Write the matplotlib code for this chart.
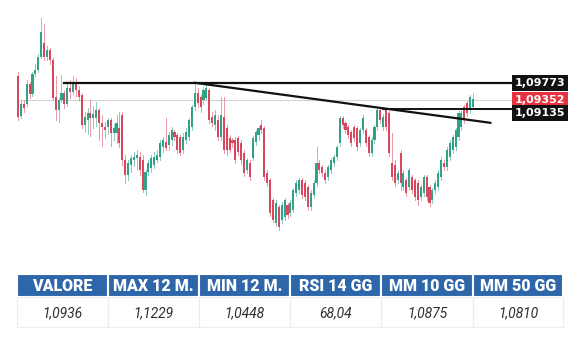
import matplotlib.pyplot as plt
from matplotlib.patches import Rectangle

# candele giornaliere (EUR/USD)
opens = [1.0995, 1.0895, 1.0925, 1.0925, 1.0975, 1.0950, 1.1000, 1.1010, 1.1043, 1.1078,
         1.1043, 1.1060, 1.1035, 1.0943, 1.0910, 1.0935, 1.0953, 1.0925, 1.0965, 1.0955,
         1.0980, 1.0960, 1.0948, 1.0873, 1.0885, 1.0903, 1.0890, 1.0890, 1.0910, 1.0878,
         1.0868, 1.0868, 1.0885, 1.0853, 1.0853, 1.0865, 1.0898, 1.0785, 1.0748, 1.0773,
         1.0785, 1.0790, 1.0793, 1.0785, 1.0710, 1.0755, 1.0765, 1.0773, 1.0785, 1.0793,
         1.0818, 1.0830, 1.0823, 1.0835, 1.0855, 1.0848, 1.0843, 1.0810, 1.0835, 1.0843,
         1.0868, 1.0918, 1.0953, 1.0943, 1.0935, 1.0940, 1.0960, 1.0893, 1.0873, 1.0885,
         1.0843, 1.0893, 1.0865, 1.0840, 1.0835, 1.0835, 1.0840, 1.0828, 1.0803, 1.0760,
         1.0778, 1.0790, 1.0830, 1.0848, 1.0873, 1.0865, 1.0753, 1.0735, 1.0685, 1.0628,
         1.0668, 1.0635, 1.0643, 1.0673, 1.0653, 1.0660, 1.0703, 1.0710, 1.0735, 1.0728,
         1.0718, 1.0668, 1.0698, 1.0728, 1.0778, 1.0768, 1.0753, 1.0743, 1.0760, 1.0778,
         1.0793, 1.0828, 1.0890, 1.0878, 1.0868, 1.0855, 1.0868, 1.0865, 1.0828, 1.0860,
         1.0860, 1.0843, 1.0803, 1.0835, 1.0868, 1.0910, 1.0868, 1.0910, 1.0903, 1.0778,
         1.0773, 1.0735, 1.0803, 1.0718, 1.0735, 1.0718, 1.0743, 1.0735, 1.0728, 1.0693,
         1.0703, 1.0743, 1.0718, 1.0685, 1.0710, 1.0718, 1.0743, 1.0778, 1.0768, 1.0793,
         1.0810, 1.0818, 1.0843, 1.0868, 1.0918, 1.0928, 1.0910, 1.0918]
closes = [1.0893, 1.0925, 1.0915, 1.0975, 1.0950, 1.1000, 1.1010, 1.1043, 1.1105, 1.1043,
          1.1060, 1.1035, 1.0940, 1.0910, 1.0935, 1.0953, 1.0925, 1.0965, 1.0955, 1.0980,
          1.0960, 1.0943, 1.0873, 1.0893, 1.0903, 1.0890, 1.0900, 1.0910, 1.0878, 1.0868,
          1.0860, 1.0885, 1.0853, 1.0865, 1.0878, 1.0828, 1.0785, 1.0748, 1.0778, 1.0790,
          1.0793, 1.0798, 1.0760, 1.0710, 1.0755, 1.0778, 1.0790, 1.0793, 1.0798, 1.0828,
          1.0835, 1.0815, 1.0848, 1.0860, 1.0843, 1.0810, 1.0803, 1.0843, 1.0855, 1.0885,
          1.0918, 1.0953, 1.0928, 1.0918, 1.0960, 1.0965, 1.0885, 1.0878, 1.0898, 1.0843,
          1.0898, 1.0810, 1.0810, 1.0810, 1.0828, 1.0785, 1.0805, 1.0785, 1.0753, 1.0785,
          1.0743, 1.0840, 1.0855, 1.0865, 1.0860, 1.0743, 1.0728, 1.0653, 1.0635, 1.0678,
          1.0618, 1.0673, 1.0685, 1.0648, 1.0678, 1.0710, 1.0728, 1.0735, 1.0698, 1.0693,
          1.0668, 1.0703, 1.0728, 1.0778, 1.0760, 1.0753, 1.0735, 1.0768, 1.0785, 1.0793,
          1.0818, 1.0890, 1.0873, 1.0860, 1.0848, 1.0828, 1.0840, 1.0818, 1.0860, 1.0890,
          1.0828, 1.0803, 1.0835, 1.0868, 1.0910, 1.0885, 1.0893, 1.0868, 1.0803, 1.0743,
          1.0728, 1.0753, 1.0728, 1.0753, 1.0703, 1.0760, 1.0710, 1.0693, 1.0685, 1.0718,
          1.0743, 1.0693, 1.0678, 1.0710, 1.0728, 1.0753, 1.0785, 1.0768, 1.0810, 1.0828,
          1.0843, 1.0860, 1.0903, 1.0903, 1.0885, 1.0903, 1.0943, 1.0938]
highs = [1.1005, 1.0935, 1.0935, 1.0985, 1.0980, 1.1005, 1.1025, 1.1050, 1.1140, 1.1125,
         1.1070, 1.1065, 1.1040, 1.0995, 1.0940, 1.0998, 1.0960, 1.0975, 1.0985, 1.0995,
         1.0990, 1.0970, 1.0953, 1.0905, 1.0915, 1.0935, 1.0920, 1.0930, 1.0915, 1.0898,
         1.0880, 1.0890, 1.0890, 1.0875, 1.0898, 1.0905, 1.0905, 1.0798, 1.0785, 1.0798,
         1.0805, 1.0810, 1.0805, 1.0798, 1.0760, 1.0785, 1.0798, 1.0805, 1.0810, 1.0835,
         1.0843, 1.0890, 1.0855, 1.0868, 1.0860, 1.0853, 1.0848, 1.0853, 1.0865, 1.0890,
         1.0923, 1.0980, 1.0965, 1.0948, 1.0968, 1.0973, 1.0965, 1.0905, 1.0910, 1.0898,
         1.0943, 1.0943, 1.0873, 1.0848, 1.0840, 1.0843, 1.0845, 1.0835, 1.0810, 1.0790,
         1.0785, 1.0845, 1.0860, 1.0870, 1.0885, 1.0870, 1.0760, 1.0740, 1.0690, 1.0685,
         1.0673, 1.0680, 1.0690, 1.0678, 1.0685, 1.0715, 1.0735, 1.0740, 1.0740, 1.0735,
         1.0723, 1.0710, 1.0735, 1.0818, 1.0785, 1.0773, 1.0760, 1.0773, 1.0790, 1.0798,
         1.0823, 1.0895, 1.0895, 1.0883, 1.0873, 1.0860, 1.0873, 1.0870, 1.0865, 1.0898,
         1.0865, 1.0848, 1.0843, 1.0873, 1.0915, 1.0915, 1.0900, 1.0915, 1.0908, 1.0853,
         1.0785, 1.0760, 1.0810, 1.0760, 1.0740, 1.0765, 1.0748, 1.0740, 1.0735, 1.0723,
         1.0748, 1.0748, 1.0723, 1.0715, 1.0735, 1.0760, 1.0793, 1.0785, 1.0818, 1.0835,
         1.0848, 1.0865, 1.0908, 1.0908, 1.0923, 1.0933, 1.0948, 1.0953]
lows = [1.0885, 1.0890, 1.0905, 1.0920, 1.0940, 1.0945, 1.0995, 1.1005, 1.1040, 1.1035,
        1.1035, 1.1025, 1.0935, 1.0885, 1.0880, 1.0930, 1.0915, 1.0920, 1.0940, 1.0950,
        1.0945, 1.0935, 1.0865, 1.0855, 1.0850, 1.0845, 1.0865, 1.0870, 1.0835, 1.0820,
        1.0840, 1.0850, 1.0820, 1.0835, 1.0828, 1.0818, 1.0773, 1.0728, 1.0735, 1.0755,
        1.0770, 1.0760, 1.0748, 1.0705, 1.0698, 1.0748, 1.0755, 1.0765, 1.0780, 1.0785,
        1.0805, 1.0810, 1.0810, 1.0823, 1.0835, 1.0803, 1.0798, 1.0803, 1.0828, 1.0835,
        1.0860, 1.0910, 1.0918, 1.0905, 1.0925, 1.0935, 1.0878, 1.0870, 1.0860, 1.0835,
        1.0835, 1.0803, 1.0798, 1.0805, 1.0818, 1.0778, 1.0798, 1.0775, 1.0745, 1.0753,
        1.0735, 1.0785, 1.0823, 1.0835, 1.0853, 1.0735, 1.0720, 1.0645, 1.0630, 1.0620,
        1.0610, 1.0628, 1.0635, 1.0640, 1.0645, 1.0655, 1.0695, 1.0703, 1.0690, 1.0685,
        1.0660, 1.0660, 1.0690, 1.0720, 1.0753, 1.0745, 1.0728, 1.0735, 1.0753, 1.0770,
        1.0785, 1.0820, 1.0865, 1.0853, 1.0840, 1.0820, 1.0833, 1.0810, 1.0820, 1.0853,
        1.0820, 1.0795, 1.0795, 1.0828, 1.0860, 1.0878, 1.0860, 1.0860, 1.0795, 1.0735,
        1.0720, 1.0728, 1.0710, 1.0710, 1.0695, 1.0710, 1.0703, 1.0685, 1.0673, 1.0685,
        1.0695, 1.0685, 1.0670, 1.0678, 1.0703, 1.0710, 1.0735, 1.0760, 1.0760, 1.0785,
        1.0803, 1.0810, 1.0835, 1.0860, 1.0878, 1.0895, 1.0903, 1.0913]

# livelli disegnati sul grafico
resistenza = 1.09773
ultimo = 1.09352
trend_lvl = 1.09135
trend_x = [61, 163]            # indice candela inizio/fine trendline
trend_y = [1.0978, 1.0878]
res_start = 16
trend_lvl_start = 126

# tabella sotto il grafico
intestazioni = ['VALORE', 'MAX 12 M.', 'MIN 12 M.', 'RSI 14 GG', 'MM 10 GG', 'MM 50 GG']
valori = ['1,0936', '1,1229', '1,0448', '68,04', '1,0875', '1,0810']

verde = '#2fa287'
rosso = '#d9475e'

fig = plt.figure(figsize=(5.77, 3.38), dpi=100)

# --- grafico a candele ---
ax = fig.add_axes([0, 88 / 338, 1, 250 / 338])
n = len(closes)
passo = 455 / (n - 1)  # pixel per candela
x0 = -18 / passo
ax.set_xlim(x0, x0 + 577 / passo)
ax.set_ylim(1.1185 - 0.00025 * 250, 1.1185)
ax.axis('off')

for i in range(n):
    o, c, h, l = opens[i], closes[i], highs[i], lows[i]
    col = verde if c >= o else rosso
    ax.plot([i, i], [l, h], color=col, lw=0.7, alpha=0.55, zorder=2)
    ax.bar(i, max(abs(c - o), 0.00012), bottom=min(o, c), width=0.72,
           color=col, edgecolor='none', zorder=3)

x_lab = (513 - 18) / passo
x_lab_c = (540 - 18) / passo

ax.plot([0, x_lab], [ultimo, ultimo], color='#d9d2d2', lw=0.8, zorder=1)
ax.plot([res_start, x_lab], [resistenza, resistenza], color='#111111', lw=1.6, zorder=4)
ax.plot([trend_lvl_start, x_lab], [trend_lvl, trend_lvl], color='#111111', lw=1.4, zorder=4)
ax.plot(trend_x, trend_y, color='#111111', lw=1.6, zorder=4)

etichette = [(resistenza, '1,09773', '#111111'),
             (ultimo, '1,09352', '#e8323f'),
             (1.0903, '1,09135', '#111111')]
for ypos, txt, bg in etichette:
    ax.text(x_lab_c, ypos, txt, ha='center', va='center', color='white',
            fontsize=8, fontweight='bold', zorder=6,
            bbox=dict(boxstyle='square,pad=0.25', fc=bg, ec='none'))

# --- tabella ---
tx = fig.add_axes([0, 0, 1, 88 / 338])
tx.set_xlim(0, 577)
tx.set_ylim(338, 250)
tx.axis('off')

bordi = [17, 108, 199, 290, 381, 473, 563]
blu = '#2e66aa'
for j, (h, v) in enumerate(zip(intestazioni, valori)):
    xa, xb = bordi[j], bordi[j + 1]
    tx.add_patch(Rectangle((xa, 274), xb - xa, 23, fc=blu, ec='white', lw=1.5))
    tx.add_patch(Rectangle((xa, 297), xb - xa, 30, fc='white', ec='#ececec', lw=0.8))
    tx.text((xa + xb) / 2, 286, h, ha='center', va='center', color='white',
            fontsize=11.5, fontweight='black', family='Roboto')
    tx.text((xa + xb) / 2, 313, v, ha='center', va='center', color='#2e2e2e',
            fontsize=10, style='italic', family='Roboto')

fig.savefig('out.png', dpi=100)
